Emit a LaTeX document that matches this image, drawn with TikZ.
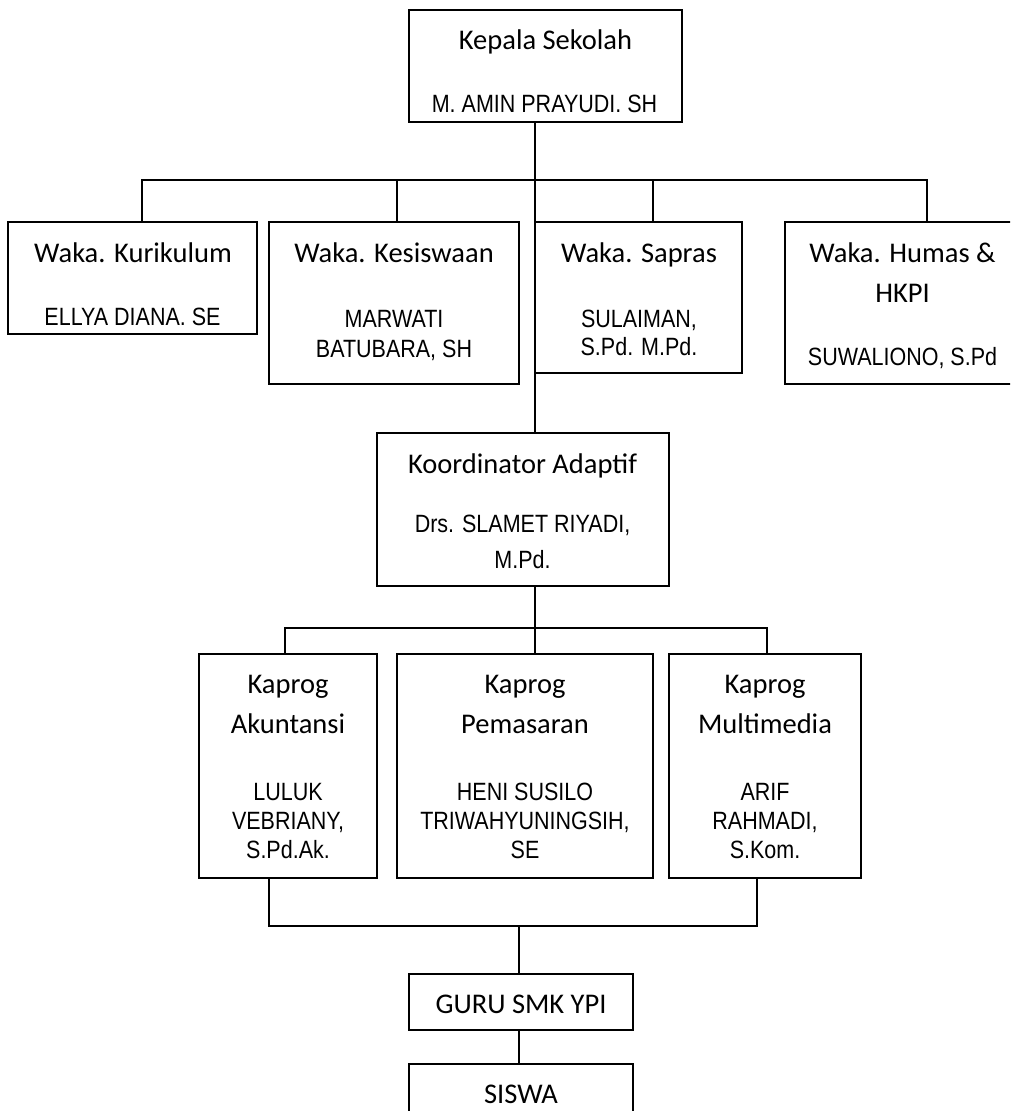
\documentclass[tikz,border=0pt]{standalone}
\usepackage{fontspec}
\newfontfamily\ttlfont{Carlito}
\newfontfamily\nmfont[FakeStretch=0.86]{Liberation Sans}
\tikzset{
  box/.style={draw, line width=1.6pt, inner sep=0pt, rectangle},
  ttl/.style={font=\ttlfont\fontsize{28.5}{34}\selectfont, anchor=base, inner sep=0pt},
  nm/.style={font=\nmfont\fontsize{25}{30}\selectfont, anchor=base, inner sep=0pt},
  link/.style={line width=1.6pt}
}
\begin{document}
\begin{tikzpicture}[x=1pt,y=-1pt]
\useasboundingbox (0,0) rectangle (1010,1111);
\clip (0,0) rectangle (1010,1111);
% boxes
\node[box, minimum width=273pt, minimum height=112pt] (kep) at (545.5,66) {};
\node[box, minimum width=249pt, minimum height=112pt] (kur) at (132.5,278) {};
\node[box, minimum width=250pt, minimum height=162pt] (kes) at (394,303) {};
\node[box, minimum width=207pt, minimum height=151pt] (sap) at (638.5,297.5) {};
\node[box, minimum width=235pt, minimum height=162pt] (hum) at (902.5,303) {};
\node[box, minimum width=292pt, minimum height=153pt] (koo) at (523,509.5) {};
\node[box, minimum width=178pt, minimum height=224pt] (aku) at (288,766) {};
\node[box, minimum width=256pt, minimum height=224pt] (pem) at (525,766) {};
\node[box, minimum width=192pt, minimum height=224pt] (mul) at (765,766) {};
\node[box, minimum width=224pt, minimum height=56pt] (guru) at (521,1002) {};
\node[box, minimum width=224pt, minimum height=66pt] (sis) at (521,1097) {};
% junctions
\coordinate (m1) at (535,180);
\coordinate (b1L) at (142,180);
\coordinate (b1k) at (397,180);
\coordinate (b1s) at (653,180);
\coordinate (b1R) at (927,180);
\coordinate (m2) at (535,628);
\coordinate (b2L) at (285,628);
\coordinate (b2R) at (767,628);
\coordinate (b3L) at (269,926);
\coordinate (b3c) at (519,926);
\coordinate (b3R) at (757,926);
% connectors
\draw[link] (kep.south -| m1) -- (koo.north -| m1);
\draw[link] (b1L |- kur.north) -- (b1L) -- (b1R) -- (b1R |- hum.north);
\draw[link] (b1k) -- (b1k |- kes.north);
\draw[link] (b1s) -- (b1s |- sap.north);
\draw[link] (koo.south -| m2) -- (m2 |- pem.north);
\draw[link] (b2L |- aku.north) -- (b2L) -- (b2R) -- (b2R |- mul.north);
\draw[link] (aku.south -| b3L) -- (b3L) -- (b3R) -- (mul.south -| b3R);
\draw[link] (b3c) -- (b3c |- guru.north);
\draw[link] (guru.south -| b3c) -- (sis.north -| b3c);
% texts
\node[ttl] (kep-t) at (545.5,49) {Kepala Sekolah};
\node[nm] (kep-n) at (544.5,112) {M. AMIN PRAYUDI. SH};
\node[ttl] (kur-t) at (133,262) {Waka. Kurikulum};
\node[nm] (kur-n) at (132.5,325) {ELLYA DIANA. SE};
\node[ttl] (kes-t) at (394,262) {Waka. Kesiswaan};
\node[nm] (kes-n1) at (394,327) {MARWATI};
\node[nm] (kes-n2) at (394,357) {BATUBARA, SH};
\node[ttl] (sap-t) at (639,262) {Waka. Sapras};
\node[nm] (sap-n1) at (639,327) {SULAIMAN,};
\node[nm] (sap-n2) at (639,355) {S.Pd. M.Pd.};
\node[ttl] (hum-t1) at (902.5,262) {Waka. Humas \&};
\node[ttl] (hum-t2) at (902.5,302) {HKPI};
\node[nm] (hum-n) at (902.5,365) {SUWALIONO, S.Pd};
\node[ttl] (koo-t) at (522.5,473) {Koordinator Adaptif};
\node[nm] (koo-n1) at (522.5,532) {Drs. SLAMET RIYADI,};
\node[nm] (koo-n2) at (522.5,568) {M.Pd.};
\node[ttl] (aku-t1) at (288,693) {Kaprog};
\node[ttl] (aku-t2) at (288,733) {Akuntansi};
\node[nm] (aku-n1) at (288,800) {LULUK};
\node[nm] (aku-n2) at (288,829) {VEBRIANY,};
\node[nm] (aku-n3) at (288,858) {S.Pd.Ak.};
\node[ttl] (pem-t1) at (525,693) {Kaprog};
\node[ttl] (pem-t2) at (525,733) {Pemasaran};
\node[nm] (pem-n1) at (525,800) {HENI SUSILO};
\node[nm] (pem-n2) at (525,829) {TRIWAHYUNINGSIH,};
\node[nm] (pem-n3) at (525,858) {SE};
\node[ttl] (mul-t1) at (765,693) {Kaprog};
\node[ttl] (mul-t2) at (765,733) {Multimedia};
\node[nm] (mul-n1) at (765,800) {ARIF};
\node[nm] (mul-n2) at (765,829) {RAHMADI,};
\node[nm] (mul-n3) at (765,858) {S.Kom.};
\node[ttl] (guru-t) at (521,1013) {GURU SMK YPI};
\node[ttl] (sis-t) at (521,1103) {SISWA};
\end{tikzpicture}
\end{document}
